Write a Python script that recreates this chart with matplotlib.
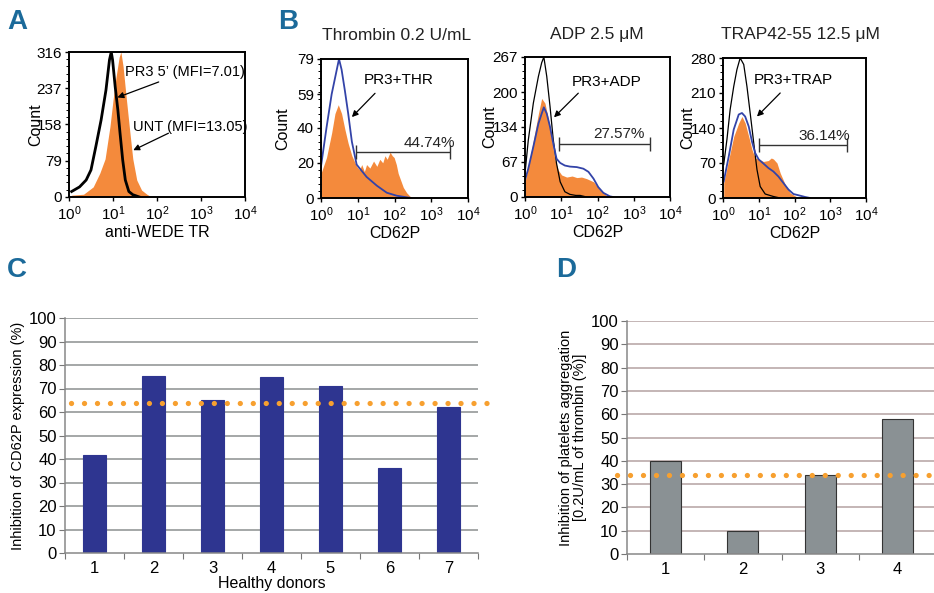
import numpy as np
import matplotlib
matplotlib.use("Agg")
import matplotlib.pyplot as plt
from matplotlib.ticker import FixedLocator, FixedFormatter, AutoMinorLocator, LogLocator, NullFormatter

plt.rcParams['font.family'] = ['Liberation Sans', 'DejaVu Sans']
plt.rcParams['mathtext.fontset'] = 'custom'
plt.rcParams['mathtext.rm'] = 'Liberation Sans'
plt.rcParams['mathtext.it'] = 'Liberation Sans:italic'
plt.rcParams['mathtext.bf'] = 'Liberation Sans:bold'

# ---- data (flow histograms: position in decades, count) ----
# panel A
a_pr3_dec = [0.06, 0.24, 0.39, 0.50, 0.61, 0.73, 0.84, 0.92, 0.96, 0.99, 1.05, 1.11, 1.16, 1.22, 1.28, 1.36, 1.45, 1.60]
a_pr3_cnt = [12, 22, 37, 59, 110, 168, 233, 299, 316, 299, 240, 190, 139, 81, 37, 12, 5, 0]
a_unt_dec = [0.06, 0.33, 0.55, 0.70, 0.82, 0.93, 1.00, 1.07, 1.14, 1.18, 1.23, 1.29, 1.37, 1.45, 1.54, 1.65, 1.77, 1.88]
a_unt_cnt = [4, 6, 22, 52, 83, 153, 211, 262, 305, 316, 284, 226, 153, 83, 37, 15, 6, 0]

# panel B, thrombin
thr_pr3_dec = [0.0, 0.15, 0.29, 0.43, 0.49, 0.56, 0.65, 0.74, 0.84, 0.97, 1.24, 1.52, 1.79, 2.06, 2.30, 2.45]
thr_pr3_cnt = [18, 40, 59, 73, 79, 73, 61, 48, 32, 19, 12, 7, 3, 1.3, 0.5, 0]
thr_dec = [0.0, 0.15, 0.29, 0.38, 0.47, 0.56, 0.65, 0.74, 0.84, 0.97, 1.05, 1.11, 1.18, 1.24, 1.33, 1.43, 1.52,
           1.60, 1.68, 1.74, 1.80, 1.88, 1.94, 1.99, 2.05, 2.10, 2.17, 2.24, 2.33, 2.42, 2.51]
thr_cnt = [14, 23, 37, 48, 53, 48, 39, 31, 24, 18, 16, 19, 15, 19, 17, 21, 18, 22, 20, 24, 22, 26, 24, 23, 19, 14, 10, 6, 3, 1, 0]

# panel B, ADP
adp_ctrl_dec = [0.0, 0.09, 0.23, 0.37, 0.46, 0.52, 0.60, 0.69, 0.78, 0.87, 0.97, 1.10, 1.24, 1.40, 1.52, 1.70]
adp_ctrl_cnt = [45, 108, 179, 230, 256, 267, 230, 173, 109, 64, 29, 10, 5, 3, 3, 0]
adp_dec = [0.0, 0.09, 0.23, 0.37, 0.46, 0.55, 0.65, 0.74, 0.83, 0.92, 1.01, 1.15, 1.30, 1.43, 1.56, 1.70, 1.89, 2.07, 2.25, 2.38]
adp_cnt = [29, 57, 108, 159, 188, 179, 147, 108, 70, 51, 42, 38, 40, 37, 38, 35, 29, 14, 3, 0]
adp_pr3_dec = [0.0, 0.09, 0.23, 0.37, 0.46, 0.52, 0.60, 0.69, 0.78, 0.87, 0.97, 1.10, 1.24, 1.43, 1.61, 1.75, 1.89, 2.02, 2.16, 2.34, 2.43]
adp_pr3_cnt = [32, 54, 96, 140, 159, 171, 159, 134, 102, 73, 65, 60, 58, 57, 54, 48, 35, 19, 8, 1.3, 0]

# panel B, TRAP
trap_ctrl_dec = [0.02, 0.11, 0.20, 0.30, 0.39, 0.48, 0.58, 0.67, 0.76, 0.86, 0.95, 1.04, 1.18, 1.41, 1.60]
trap_ctrl_cnt = [67, 117, 177, 223, 257, 280, 267, 223, 170, 110, 57, 23, 8, 3, 0]
trap_dec = [0.02, 0.16, 0.30, 0.44, 0.53, 0.62, 0.72, 0.81, 0.90, 1.00, 1.13, 1.27, 1.35, 1.41, 1.51, 1.60, 1.74, 1.88, 2.07, 2.16]
trap_cnt = [30, 77, 123, 150, 163, 150, 123, 97, 80, 78, 73, 75, 80, 78, 70, 50, 27, 10, 2, 0]
trap_pr3_dec = [0.02, 0.16, 0.30, 0.44, 0.53, 0.62, 0.72, 0.81, 0.90, 1.00, 1.13, 1.27, 1.41, 1.55, 1.69, 1.83, 1.97, 2.16, 2.30, 2.44]
trap_pr3_cnt = [33, 83, 137, 167, 170, 163, 143, 113, 90, 77, 69, 60, 53, 43, 30, 17, 8, 4.6, 2, 0]

# panels C and D
donors_c = ['1', '2', '3', '4', '5', '6', '7']
cd62p_inhibition = [41.5, 75.5, 65, 75, 71, 36, 62]
cd62p_mean = 64
donors_d = ['1', '2', '3', '4']
aggregation_inhibition = [40, 10, 34, 58]
aggregation_mean = 34

W, H = 934, 593
fig = plt.figure(figsize=(W / 100, H / 100), dpi=100)

ORANGE = '#f48a3c'
BLUE = '#3343a8'
LETTER = '#1b6a9a'


def px_axes(left, top, right, bottom):
    return fig.add_axes([left / W, 1 - bottom / H, (right - left) / W, (bottom - top) / H])


def fig_text(x, y, s, **kw):
    fig.text(x / W, 1 - y / H, s, **kw)


def flow_axes(rect, ymax, label_x, xlabel):
    ax = px_axes(*rect)
    ax.set_xscale('log')
    ax.set_xlim(1, 1e4)
    ax.set_ylim(0, ymax)
    ax.xaxis.set_major_locator(FixedLocator([1, 10, 100, 1000, 10000]))
    ax.xaxis.set_major_formatter(FixedFormatter([r'$10^{%d}$' % i for i in range(5)]))
    ax.xaxis.set_minor_locator(LogLocator(base=10, subs=np.arange(2, 10)))
    ax.xaxis.set_minor_formatter(NullFormatter())
    ax.yaxis.set_minor_locator(AutoMinorLocator(5))
    for s in ax.spines.values():
        s.set_linewidth(1.4)
    ax.tick_params(which='major', direction='out', length=3, width=1, labelsize=11, pad=2)
    ax.tick_params(which='minor', direction='out', length=2, width=0.7)
    ax.set_ylabel('Count', fontsize=11.5, va='center')
    ax.yaxis.set_label_coords(label_x, 0.5)
    ax.set_xlabel(xlabel, fontsize=11.5, labelpad=2)
    return ax


def dec(v):
    return 10 ** np.asarray(v, dtype=float)


def gate(ax, lo, hi, y, txt, txt_x, txt_y):
    mid = (lo + hi) / 2
    ax.errorbar([10 ** mid], [y], xerr=[[10 ** mid - 10 ** lo], [10 ** hi - 10 ** mid]],
                fmt='none', ecolor='#333333', elinewidth=1, capsize=5, capthick=1)
    ax.text(10 ** txt_x, txt_y, txt, ha='right', va='bottom', fontsize=11, color='#222222')


arrow = dict(arrowstyle='-|>', color='black', lw=0.9, mutation_scale=9, shrinkA=0, shrinkB=0)

# ---- A ----
ax = flow_axes((69, 52, 245, 197), 316, -0.19, 'anti-WEDE TR')
ax.set_yticks([0, 79, 158, 237, 316])
ax.fill_between(dec(a_unt_dec), a_unt_cnt, color=ORANGE, lw=0)
ax.plot(dec(a_pr3_dec), a_pr3_cnt, color='black', lw=2)
ax.annotate('PR3 5\u2019 (MFI=7.01)', xy=(10 ** 1.1, 217), xytext=(10 ** 1.27, 272),
            fontsize=10.5, va='center', ha='left', arrowprops=arrow)
ax.annotate('UNT (MFI=13.05)', xy=(10 ** 1.46, 102), xytext=(10 ** 1.45, 153),
            fontsize=10.5, va='center', ha='left')
ax.annotate('', xy=(10 ** 1.46, 102), xytext=(10 ** 2.26, 139), arrowprops=arrow)

# ---- B thrombin ----
ax = flow_axes((321, 59, 468, 198), 79, -0.26, 'CD62P')
ax.set_yticks([0, 20, 40, 59, 79])
ax.fill_between(dec(thr_dec), thr_cnt, color=ORANGE, lw=0)
ax.plot(dec(thr_pr3_dec), thr_pr3_cnt, color=BLUE, lw=1.3)
gate(ax, 0.95, 3.51, 26.3, '44.74%', 3.65, 27.5)
ax.text(10 ** 1.15, 67, 'PR3+THR', fontsize=11, va='center')
ax.annotate('', xy=(10 ** 0.84, 46), xytext=(10 ** 1.47, 59.5), arrowprops=arrow)

# ---- B ADP ----
ax = flow_axes((525, 57, 670, 197), 267, -0.245, 'CD62P')
ax.set_yticks([0, 67, 134, 200, 267])
ax.fill_between(dec(adp_dec), adp_cnt, color=ORANGE, lw=0)
ax.plot(dec(adp_ctrl_dec), adp_ctrl_cnt, color='black', lw=0.9)
ax.plot(dec(adp_pr3_dec), adp_pr3_cnt, color=BLUE, lw=1.3)
gate(ax, 0.94, 3.45, 102, '27.57%', 3.31, 106)
ax.text(10 ** 1.3, 220, 'PR3+ADP', fontsize=11, va='center')
ax.annotate('', xy=(10 ** 0.8, 152), xytext=(10 ** 1.47, 198), arrowprops=arrow)

# ---- B TRAP ----
ax = flow_axes((723, 58, 866, 198), 280, -0.245, 'CD62P')
ax.set_yticks([0, 70, 140, 210, 280])
ax.fill_between(dec(trap_dec), trap_cnt, color=ORANGE, lw=0)
ax.plot(dec(trap_ctrl_dec), trap_ctrl_cnt, color='black', lw=0.9)
ax.plot(dec(trap_pr3_dec), trap_pr3_cnt, color=BLUE, lw=1.3)
gate(ax, 1.0, 3.46, 107, '36.14%', 3.56, 111)
ax.text(10 ** 0.85, 237, 'PR3+TRAP', fontsize=11, va='center')
ax.annotate('', xy=(10 ** 0.95, 163), xytext=(10 ** 1.6, 210), arrowprops=arrow)

fig_text(397, 35, 'Thrombin 0.2 U/mL', fontsize=12.5, ha='center', va='center', color='#222222')
fig_text(597, 35, 'ADP 2.5 \u03bcM', fontsize=12.5, ha='center', va='center', color='#222222')
fig_text(800, 35, 'TRAP42-55 12.5 \u03bcM', fontsize=12.5, ha='center', va='center', color='#222222')


def bar_axes(rect, names, values, mean, color, edge, grid_color, ylabel, xlabel, dot_from, dot_to):
    ax = px_axes(*rect)
    x = np.arange(1, len(names) + 1)
    ax.set_xlim(0.5, len(names) + 0.5)
    ax.set_ylim(0, 100)
    for g in range(10, 101, 10):
        ax.axhline(g, color=grid_color, lw=1.1, zorder=0)
    ax.bar(x, values, width=0.4, color=color, edgecolor=edge, lw=0.8, zorder=2)
    ax.plot([dot_from, dot_to], [mean, mean], color='#f7a030', lw=3.8,
            linestyle=(0, (0.01, 2.45)), dash_capstyle='round', clip_on=False, zorder=3)
    ax.set_yticks(range(0, 101, 10))
    ax.set_xticks(np.arange(0.5, len(names) + 1, 1))
    ax.set_xticklabels([])
    ax.set_xticks(x, minor=True)
    ax.set_xticklabels(names, minor=True)
    ax.tick_params(axis='x', which='minor', length=0, labelsize=12, pad=6)
    ax.tick_params(axis='x', which='major', length=4, color='#777777')
    ax.tick_params(axis='y', length=4, color='#777777', labelsize=12, pad=2)
    for s in ('top', 'right'):
        ax.spines[s].set_visible(False)
    for s in ('left', 'bottom'):
        ax.spines[s].set_color('#888888')
        ax.spines[s].set_linewidth(1.1)
    ax.set_ylabel(ylabel, fontsize=10.5, labelpad=3, linespacing=1.0)
    if xlabel:
        ax.set_xlabel(xlabel, fontsize=11.5, labelpad=0)
    return ax


bar_axes((65, 318, 478, 553), donors_c, cd62p_inhibition, cd62p_mean, '#2e3590', '#2e3590', '#8c9090',
         'Inhibition of CD62P expression (%)', 'Healthy donors', 0.6, 7.65)
bar_axes((627, 321, 936, 554), donors_d, aggregation_inhibition, aggregation_mean, '#8a9194', '#333333', '#b4a2a2',
         'Inhibition of platelets aggregation\n[0.2U/mL of thrombin (%)]', None, 0.37, 4.6)

for letter, x, y in (('A', 7, 22), ('B', 278, 22), ('C', 7, 270), ('D', 556, 270)):
    fig_text(x, y, letter, fontsize=20, fontweight='bold', color=LETTER, ha='left', va='center')

fig.savefig('out.png', dpi=100)
